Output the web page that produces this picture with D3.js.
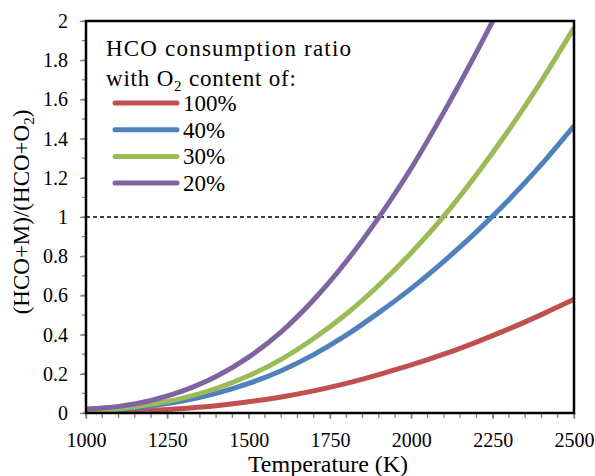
<!DOCTYPE html>
<html>
<head>
<meta charset="utf-8">
<script src="https://cdn.jsdelivr.net/npm/d3@7"></script>
<style>
  html, body { margin: 0; padding: 0; background: #fff; }
  svg { display: block; }
</style>
</head>
<body>
<svg id="chart" width="595" height="476"></svg>
<script>
// ---- data ----
const temperatures = [1000, 1100, 1200, 1300, 1400, 1500, 1600, 1700, 1800, 1900, 2000, 2100, 2200, 2300, 2400, 2500];
const o2_100 = [0.003, 0.007, 0.013, 0.023, 0.037, 0.057, 0.082, 0.113, 0.151, 0.196, 0.245, 0.300, 0.362, 0.429, 0.502, 0.580];
const o2_40  = [0.008, 0.018, 0.036, 0.062, 0.100, 0.151, 0.216, 0.298, 0.397, 0.512, 0.636, 0.774, 0.924, 1.088, 1.268, 1.465];
const o2_30  = [0.010, 0.022, 0.044, 0.077, 0.125, 0.190, 0.274, 0.380, 0.505, 0.652, 0.818, 1.004, 1.215, 1.445, 1.695, 1.965];
const o2_20  = [0.020, 0.033, 0.064, 0.114, 0.186, 0.285, 0.414, 0.578, 0.773, 0.998, 1.250, 1.535, 1.840, 2.160];
const seriesNames = ["100%", "40%", "30%", "20%"];
const seriesColors = ["#C0504D", "#4F81BD", "#9BBB59", "#8064A2"];
const seriesValues = [o2_100, o2_40, o2_30, o2_20];
const xTicks = [1000, 1250, 1500, 1750, 2000, 2250, 2500];
const yTicks = [0, 0.2, 0.4, 0.6, 0.8, 1, 1.2, 1.4, 1.6, 1.8, 2];
const refValue = 1;

const FONT = "'Liberation Serif', 'Times New Roman', Tinos, 'DejaVu Serif', 'Noto Serif', serif";

// ---- layout ----
const svg = d3.select("#chart").attr("font-family", FONT);
const L = 86, R = 574, T = 21, B = 413;
const x = d3.scaleLinear().domain([1000, 2500]).range([L, R]);
const y = d3.scaleLinear().domain([0, 2]).range([B, T]);

svg.append("defs").append("clipPath").attr("id", "plotclip")
  .append("rect").attr("x", L).attr("y", T).attr("width", R - L).attr("height", B - T);

// minor ticks
const xMinor = d3.range(1000, 2501, 50);
svg.append("g").selectAll("line").data(xMinor).join("line")
  .attr("x1", d => x(d)).attr("x2", d => x(d))
  .attr("y1", B).attr("y2", B + 5)
  .attr("stroke", "#808080").attr("stroke-width", 1.3);
const yMinor = d3.range(0, 2.001, 0.1);
svg.append("g").selectAll("line").data(yMinor).join("line")
  .attr("x1", L - 4).attr("x2", L)
  .attr("y1", d => y(d)).attr("y2", d => y(d))
  .attr("stroke", "#808080").attr("stroke-width", 1.3);

// axes
const xAxis = d3.axisBottom(x).tickValues(xTicks).tickSize(6).tickPadding(14).tickFormat(d3.format("d"));
const gx = svg.append("g").attr("transform", `translate(0,${B})`).call(xAxis).attr("font-family", FONT);
gx.select(".domain").remove();
gx.selectAll(".tick line").attr("stroke", "#808080").attr("stroke-width", 1.3);
gx.selectAll(".tick text").attr("font-size", 20).style("font-family", FONT).attr("fill", "#000");

const yAxis = d3.axisLeft(y).tickValues(yTicks).tickSize(6).tickPadding(12).tickFormat(d => d3.format("")(+d.toFixed(1)));
const gy = svg.append("g").attr("transform", `translate(${L},0)`).call(yAxis).attr("font-family", FONT);
gy.select(".domain").remove();
gy.selectAll(".tick line").attr("stroke", "#808080").attr("stroke-width", 1.3);
gy.selectAll(".tick text").attr("font-size", 20).style("font-family", FONT).attr("fill", "#000");

// reference dashed line
svg.append("line")
  .attr("x1", L).attr("x2", R).attr("y1", y(refValue)).attr("y2", y(refValue))
  .attr("stroke", "#000").attr("stroke-width", 1.5).attr("stroke-dasharray", "4,3");

// curves
const line = d3.line().x(d => x(d[0])).y(d => y(d[1])).curve(d3.curveMonotoneX);
const gLines = svg.append("g").attr("clip-path", "url(#plotclip)");
seriesValues.forEach((vals, i) => {
  const pts = vals.map((v, j) => [temperatures[j], v]);
  gLines.append("path").attr("d", line(pts))
    .attr("fill", "none").attr("stroke", seriesColors[i]).attr("stroke-width", 5)
    .attr("stroke-linejoin", "round");
});

// frame
svg.append("rect").attr("x", L).attr("y", T).attr("width", R - L).attr("height", B - T)
  .attr("fill", "none").attr("stroke", "#000").attr("stroke-width", 2.5);

// legend
const leg = svg.append("g").style("font-family", FONT);
leg.append("text").attr("x", 106).attr("y", 56).attr("font-size", 23)
  .attr("letter-spacing", 1.2).text("HCO consumption ratio");
const t2 = leg.append("text").attr("x", 106).attr("y", 86).attr("font-size", 23).attr("letter-spacing", 0.8);
t2.append("tspan").text("with O");
t2.append("tspan").attr("font-size", 15).attr("dy", 5).text("2");
t2.append("tspan").attr("dy", -5).text(" content of:");
seriesNames.forEach((name, i) => {
  const yy = 103 + i * 26.7;
  leg.append("line").attr("x1", 115).attr("x2", 177).attr("y1", yy).attr("y2", yy)
    .attr("stroke", seriesColors[i]).attr("stroke-width", 5).attr("stroke-linecap", "round");
  leg.append("text").attr("x", 183).attr("y", yy + 8).attr("font-size", 23).text(name);
});

// axis titles
svg.append("text").attr("x", 328).attr("y", 472).attr("text-anchor", "middle")
  .style("font-family", FONT).attr("font-size", 24).text("Temperature (K)");
const yt = svg.append("text").attr("transform", `translate(29,212) rotate(-90)`)
  .style("font-family", FONT).attr("text-anchor", "middle").attr("font-size", 23);
yt.append("tspan").text("(HCO+M)/(HCO+O");
yt.append("tspan").attr("font-size", 15).attr("dy", 5).text("2");
yt.append("tspan").attr("dy", -5).text(")");
</script>
</body>
</html>
